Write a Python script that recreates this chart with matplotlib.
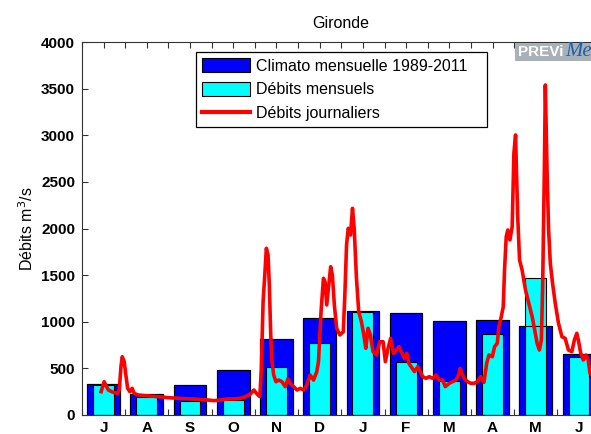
import matplotlib
matplotlib.use('Agg')
import matplotlib.pyplot as plt
from matplotlib.patches import Patch, Rectangle
from matplotlib.lines import Line2D
import numpy as np

plt.rcParams['font.family'] = ['Liberation Sans', 'DejaVu Sans']

# ---------------- data ----------------
months = ['J', 'A', 'S', 'O', 'N', 'D', 'J', 'F', 'M', 'A', 'M', 'J']
climato = [335, 225, 325, 480, 810, 1040, 1120, 1095, 1010, 1020, 955, 650]
mensuel = [318, 190, 150, 160, 510, 775, 1105, 572, 368, 869, 1466, 625]

jour_day = [13.5, 15.6, 16.8, 18.6, 21.0, 22.8, 24.9, 26.3, 27.5, 28.4, 29.8, 30.8,
            32.2, 33.8, 35.4, 36.8, 39.7, 44.4, 53.7, 60.7, 72.4, 78.2, 81.5, 88.5,
            93.2, 97.9, 102.6, 107.3, 111.9, 115.4, 118.9, 121.3, 123.1, 125.5, 126.6,
            127.8, 129.0, 130.1, 131.3, 132.2, 133.2, 134.1, 135.3, 136.9, 138.8, 141.1,
            143.5, 145.3, 147.0, 149.3, 151.7, 154.0, 156.4, 158.7, 161.0, 163.4, 165.7,
            166.9, 168.7, 170.4, 171.5, 172.7, 173.9, 175.5, 176.7, 178.1, 179.7, 182.0,
            184.4, 185.5, 186.7, 187.9, 189.5, 190.9, 192.1, 193.7, 195.3, 197.2, 198.9,
            200.3, 201.9, 203.5, 205.4, 207.8, 210.1, 212.5, 214.1, 216.0, 217.8, 219.9,
            221.8, 223.7, 225.3, 227.6, 229.3, 230.7, 232.3, 234.6, 237.0, 238.1, 240.5,
            242.8, 245.1, 247.5, 249.8, 252.1, 254.5, 256.4, 259.2, 261.5, 263.9, 265.8,
            266.9, 268.1, 269.7, 272.1, 274.4, 276.7, 279.1, 281.4, 283.7, 285.6, 287.2,
            289.6, 291.2, 293.1, 294.2, 295.9, 297.3, 298.2, 299.4, 300.5, 302.0, 303.6,
            304.8, 306.0, 306.6, 307.6, 308.8, 310.6, 313.0, 315.3, 317.7, 319.5, 321.2,
            322.8, 324.2, 325.1, 326.3, 327.0, 328.2, 329.3, 330.5, 332.1, 334.0, 336.3,
            338.7, 341.0, 343.3, 345.7, 347.5, 349.2, 350.3, 352.0, 353.8, 355.7, 357.3,
            358.5, 360.0]
jour_val = [250, 357, 322, 268, 250, 240, 232, 268, 518, 625, 572, 447,
            286, 250, 286, 232, 214, 207, 197, 186, 175, 172, 168, 161,
            154, 161, 172, 172, 179, 197, 225, 268, 232, 197, 500,
            1215, 1501, 1788, 1716, 1394, 858, 572, 429, 357, 375, 357,
            304, 386, 340, 304, 268, 286, 268, 322, 429, 375, 465,
            572, 1108, 1466, 1430, 1180, 1359, 1590, 1501, 1180, 930, 858,
            893, 1287, 1823, 2002, 1930, 2216, 2002, 1466, 1108, 1001, 858,
            715, 930, 858, 679, 643, 786, 786, 572, 715, 822, 661,
            697, 733, 679, 608, 661, 554, 518, 465, 518, 482, 411,
            393, 411, 393, 429, 375, 375, 304, 340, 357, 375, 429,
            500, 447, 393, 357, 340, 340, 357, 411, 350, 554, 643,
            625, 733, 769, 947, 1054, 1161, 1555, 1912, 1984, 1877, 2019,
            2806, 3003, 2627, 2091, 1662, 1555, 1340, 1198, 1054, 911, 769,
            697, 804, 1376, 2627, 3539, 2627, 1984, 1627, 1412, 1198, 983,
            840, 822, 697, 679, 804, 876, 804, 661, 590, 643, 590,
            447, 420]

yticks = [0, 500, 1000, 1500, 2000, 2500, 3000, 3500, 4000]

# ---------------- figure ----------------
W, H = 591, 434
fig = plt.figure(figsize=(W / 100, H / 100), dpi=100)
ax = fig.add_axes([82 / W, 19 / H, (600.6 - 82) / W, 373 / H])

month_len = 30.5
centers = month_len * (np.arange(len(months)) + 0.5)
bounds = month_len * np.arange(len(months) + 1)

ax.bar(centers, climato, width=23.1, color='#0000ff', edgecolor='black',
       linewidth=0.8, zorder=1)
ax.bar(centers, mensuel, width=14.7, color='#00ffff', edgecolor='black',
       linewidth=0.8, zorder=1.2)
ax.bar(centers, climato, width=23.1, facecolor='none', edgecolor='black',
       linewidth=0.8, zorder=1.4)
ax.plot(jour_day, jour_val, color='#ff0000', linewidth=2.6, zorder=3,
        solid_joinstyle='round')

ax.set_xlim(2.28, 366)
ax.set_ylim(0, 4000)
ax.set_yticks(yticks)
ax.set_yticklabels([str(v) for v in yticks], fontsize=11, fontweight='bold')
ax.set_xticks(centers)
ax.set_xticklabels(months, fontsize=11, fontweight='bold')
ax.set_xticks(bounds, minor=True)
ax.tick_params(axis='both', which='both', direction='in', length=4,
               width=0.8, color='#333333', top=True, right=True)
ax.tick_params(axis='x', which='major', pad=4)
ax.tick_params(axis='y', which='major', pad=5)
ax.set_axisbelow(True)
for sp in ax.spines.values():
    sp.set_color('#333333')
    sp.set_linewidth(0.8)

fig.text(341 / W, 1 - 28.3 / H, 'Gironde', ha='center', va='baseline',
         fontsize=11.5)
fig.text(27 / W, 1 - 228.5 / H, 'Débits m$^3$/s', ha='center', va='center',
         rotation=90, fontsize=11.5)

handles = [Patch(facecolor='#0000ff', edgecolor='black', linewidth=0.8),
           Patch(facecolor='#00ffff', edgecolor='black', linewidth=0.8),
           Line2D([0], [0], color='#ff0000', linewidth=3)]
labels = ['Climato mensuelle 1989-2011', 'Débits mensuels', 'Débits journaliers']
leg = fig.legend(handles, labels, loc='upper left',
                 bbox_to_anchor=(195.7 / W, 1 - 126.7 / H, (486.7 - 195.7) / W, 75 / H),
                 mode='expand', borderaxespad=0, fancybox=False, framealpha=1,
                 edgecolor='black', fontsize=11.5, handlelength=3.0,
                 handleheight=1.0, handletextpad=0.35, labelspacing=0.5,
                 borderpad=0.4)
leg.get_frame().set_linewidth(0.9)

# logo
fig.add_artist(Rectangle((515 / W, 1 - 60.7 / H), 80 / W, 18 / H,
                         transform=fig.transFigure, facecolor='#a8b0b8',
                         edgecolor='none', zorder=10))
fig.text(518 / W, 1 - 51.7 / H, 'PREVi', color='white', fontsize=11,
         fontweight='bold', ha='left', va='center', zorder=11)
fig.text(565 / W, 1 - 52 / H, 'Me', color='#1f5fa8', fontsize=15,
         fontstyle='italic', family=['Liberation Serif', 'DejaVu Serif'],
         ha='left', va='center', zorder=11)

fig.savefig('out.png', dpi=100)
